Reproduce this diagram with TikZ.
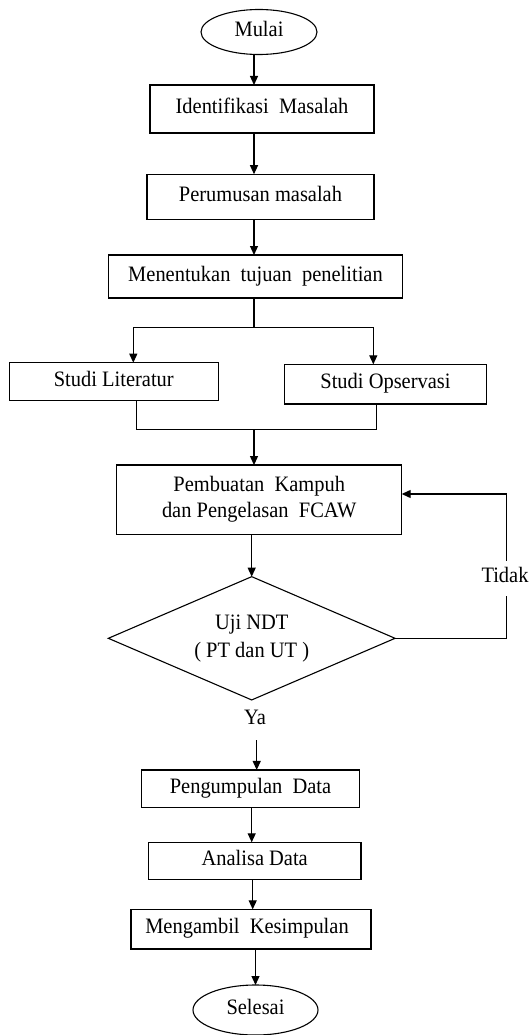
\documentclass[tikz,border=0pt]{standalone}
\usepackage{fontspec}
\setmainfont{Liberation Serif}[FakeStretch=0.93]
\usetikzlibrary{shapes.geometric,arrows.meta}
\begin{document}
\begin{tikzpicture}[x=1pt,y=-1pt,
  every node/.style={font=\fontsize{22}{26}\selectfont, inner sep=0pt, outer sep=0pt},
  proc/.style={draw, rectangle, line width=1.2pt, align=center},
  one/.style={text height=15.4pt, text depth=6.2pt},
  term/.style={draw, ellipse, line width=1.1pt, one},
  dec/.style={draw, diamond, line width=1.1pt, align=center, aspect=2.3,
    font=\fontsize{22}{28}\selectfont},
  link/.style={line width=1.2pt},
  arr/.style={link, -{Triangle[length=9pt,width=8pt]}}]
\useasboundingbox (0,0) rectangle (530,1035);
% nodes
\node[term, minimum width=116pt, minimum height=45pt] (mulai) at (259,32) {Mulai};
\node[proc, one, minimum width=224pt, minimum height=48pt] (ident) at (262,109) {Identifikasi\ \ Masalah};
\node[proc, one, minimum width=227pt, minimum height=45pt] (perum) at (260.5,196.7) {Perumusan masalah};
\node[proc, one, minimum width=294pt, minimum height=43pt] (menent) at (255.5,276.5) {Menentukan\ \ tujuan\ \ penelitian};
\node[proc, one, minimum width=209pt, minimum height=38pt] (lit) at (113.8,381.7) {Studi Literatur};
\node[proc, one, minimum width=202.4pt, minimum height=39.7pt] (ops) at (385.5,384.2) {Studi Opservasi};
\node[proc, minimum width=285pt, minimum height=69.3pt] (pemb) at (259.2,499.7) {Pembuatan\ \ Kampuh\\dan Pengelasan\ \ FCAW};
\node[dec, minimum width=286.7pt, minimum height=123.3pt] (dia) at (251.7,638.3) {Uji NDT\\( PT dan UT )};
\node[one] (tidak) at (505,578) {Tidak};
\node[one] (ya) at (255,720) {Ya};
\node[proc, one, minimum width=217.6pt, minimum height=37.7pt] (peng) at (250.5,788.8) {Pengumpulan\ \ Data};
\node[proc, one, minimum width=212.7pt, minimum height=37pt] (anal) at (254.7,860.8) {Analisa Data};
\node[proc, one, minimum width=240pt, minimum height=39.7pt] (meng) at (251,929.2) {Mengambil\ \ Kesimpulan\hspace{8pt}};
\node[term, minimum width=125pt, minimum height=50pt] (sel) at (255.5,1010) {Selesai};
% helper coordinates
\coordinate (xa) at (254,0);
\coordinate (sp) at (254,327.5);
\coordinate (xl) at (133.3,0);
\coordinate (xr) at (373.3,0);
\coordinate (ml) at (136.7,0);
\coordinate (mr) at (376.7,0);
\coordinate (mg) at (254,429.3);
\coordinate (tk) at (506.7,494);
\coordinate (tb) at (506.7,596);
\coordinate (tt) at (506.7,560.7);
\coordinate (yb) at (256.7,740);
\coordinate (xc) at (251.7,0);
\coordinate (xd) at (252.7,0);
% connectors
\draw[arr] (mulai.south -| xa) -- (ident.north -| xa);
\draw[arr] (ident.south -| xa) -- (perum.north -| xa);
\draw[arr] (perum.south -| xa) -- (menent.north -| xa);
\draw[link] (menent.south -| xa) -- (sp);
\draw[arr] (sp) -| (lit.north -| xl);
\draw[arr] (sp) -| (ops.north -| xr);
\draw[link] (lit.south -| ml) |- (mg) -| (ops.south -| mr);
\draw[arr] (mg) -- (pemb.north -| mg);
\draw[arr] (pemb.south -| dia.north) -- (dia.north);
\draw[link] (dia.east) -| (tb);
\draw[arr] (tt) |- (pemb.east |- tk);
\draw[arr] (yb) -- (peng.north -| yb);
\draw[arr] (peng.south -| xc) -- (anal.north -| xc);
\draw[arr] (anal.south -| xd) -- (meng.north -| xd);
\draw[arr] (meng.south -| sel.north) -- (sel.north);
\end{tikzpicture}
\end{document}
